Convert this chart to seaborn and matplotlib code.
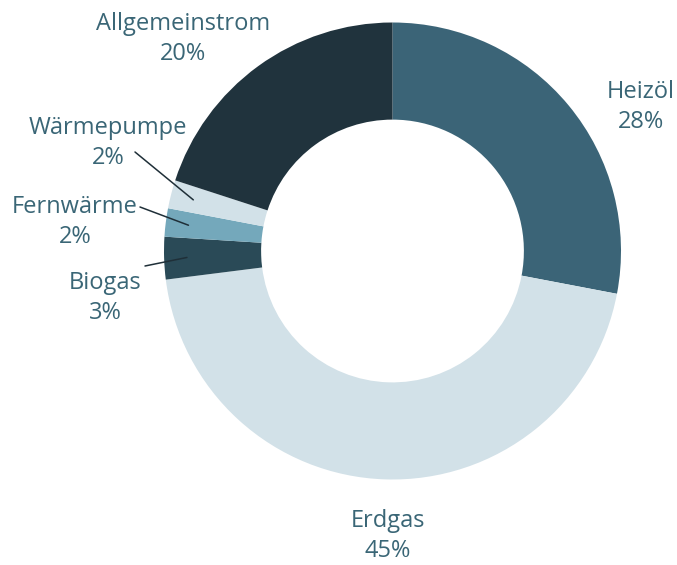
import numpy as np
import matplotlib
matplotlib.use("Agg")
import matplotlib.pyplot as plt
import seaborn as sns

# data
categories = ["Heizöl", "Erdgas", "Biogas", "Fernwärme", "Wärmepumpe", "Allgemeinstrom"]
shares = [28, 45, 3, 2, 2, 20]
colors = ["#3b6477", "#d2e1e8", "#2a4a57", "#74a8bb", "#d2e1e8", "#20333d"]
text_color = "#3a6676"

# label placement in pixels (centre of the two-line block) and whether a leader line is drawn
label_px = {
    "Heizöl": (641, 107),
    "Erdgas": (388, 536),
    "Biogas": (105, 298),
    "Fernwärme": (75, 222),
    "Wärmepumpe": (108, 143),
    "Allgemeinstrom": (183, 39),
}
leader_start_px = {
    "Biogas": (145, 266),
    "Fernwärme": (140, 207),
    "Wärmepumpe": (135, 152),
}

sns.set_theme(style="white")
plt.rcParams["font.family"] = ["Open Sans", "DejaVu Sans"]

W, H = 677, 565
cx, cy, R = 392.5, 251, 228.5

fig = plt.figure(figsize=(W / 100, H / 100), dpi=100)
ax = fig.add_axes([0, 0, 1, 1])

wedges, _ = ax.pie(shares, colors=colors, startangle=90, counterclock=False,
                   radius=1.0, wedgeprops=dict(width=0.425, linewidth=0))

ax.set_xlim(-cx / R, (W - cx) / R)
ax.set_ylim(-(H - cy) / R, cy / R)
ax.set_aspect("equal")
ax.axis("off")


def px2data(x, y):
    return (x - cx) / R, (cy - y) / R


for cat, val, w in zip(categories, shares, wedges):
    lx, ly = px2data(*label_px[cat])
    ax.text(lx, ly, f"{cat}\n{val}%", ha="center", va="center", fontsize=17,
            color=text_color, linespacing=1.3)
    if cat in leader_start_px:
        mid = np.deg2rad((w.theta1 + w.theta2) / 2)
        ex, ey = 0.9 * np.cos(mid), 0.9 * np.sin(mid)
        sx, sy = px2data(*leader_start_px[cat])
        ax.plot([sx, ex], [sy, ey], color="#1f2f38", lw=1.1)

fig.savefig("out.png", dpi=100)
